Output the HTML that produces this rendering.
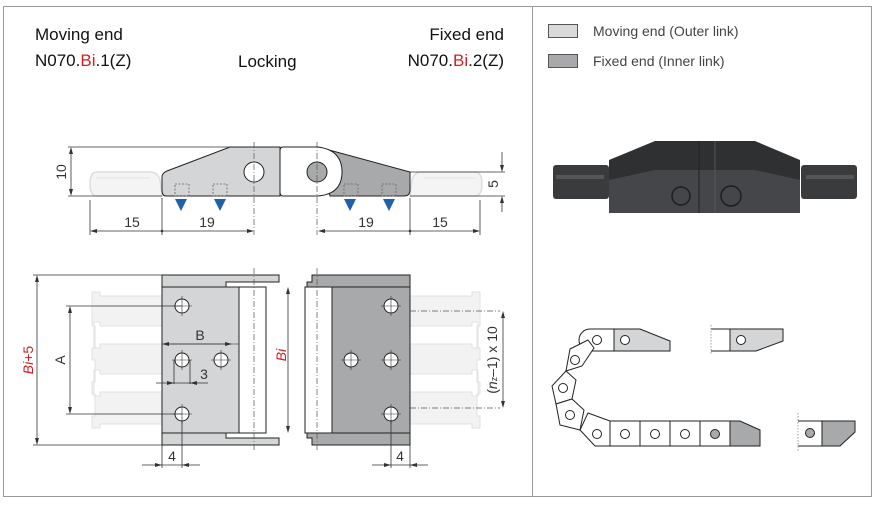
<!DOCTYPE html>
<html><head><meta charset="utf-8"><style>
html,body{margin:0;padding:0;background:#fff;}
svg{display:block;font-family:"Liberation Sans",Arial,sans-serif;}
</style></head><body>
<svg width="883" height="505" viewBox="0 0 883 505" xmlns="http://www.w3.org/2000/svg">
<rect x="0" y="0" width="883" height="505" fill="#fff"/>
<rect x="3.5" y="6.5" width="868" height="490" fill="none" stroke="#999" stroke-width="1"/>
<line x1="532.5" y1="6" x2="532.5" y2="497" stroke="#999"/>

<!-- headers -->
<g font-size="17" fill="#111">
<text x="35" y="40">Moving end</text>
<text x="35" y="66">N070.<tspan fill="#d42020">Bi</tspan>.1(Z)</text>
<text x="238" y="67">Locking</text>
<text x="504" y="40" text-anchor="end">Fixed end</text>
<text x="504" y="66" text-anchor="end">N070.<tspan fill="#d42020">Bi</tspan>.2(Z)</text>
</g>
<!-- legend -->
<rect x="548.5" y="24.5" width="29" height="13" fill="#d9d9d9" stroke="#555"/>
<rect x="548.5" y="54.5" width="29" height="13" fill="#a9a9ab" stroke="#555"/>
<g font-size="14" fill="#444"><text x="593" y="36">Moving end (Outer link)</text><text x="593" y="66">Fixed end (Inner link)</text></g>

<!-- SIDE VIEW -->
<g stroke="#ddd" fill="#f4f4f4" stroke-width="1.5">
<path d="M97 172 H150 Q158 172 160 180 L162 196 H97 Q90 196 90 184 Q90 172 97 172Z"/>
<path d="M475 172 H422 Q414 172 412 180 L410 196 H475 Q482 196 482 184 Q482 172 475 172Z"/>
</g>
<line x1="96" y1="178" x2="150" y2="178" stroke="#e4e4e4"/>
<line x1="424" y1="178" x2="476" y2="178" stroke="#e4e4e4"/>
<g stroke="#222" stroke-width="1">
<path d="M230 147 H280 V196 H166 Q162 196 162 190 V177 Q162 173 167 171Z" fill="#d4d5d7"/>
<path d="M318 147 L410 172 V190 Q410 196 404 196 H330 Z" fill="#a8a9ab"/>
<path d="M283 147 H318 Q342 150 342 172 Q342 194 318 196 H283 Q280 196 280 192 V151 Q280 147 283 147Z" fill="#fff"/>
<circle cx="254" cy="172" r="10" fill="#fff"/>
<circle cx="317" cy="172" r="10" fill="#a8a9ab"/>
</g>
<g stroke="#666" stroke-width="0.8" stroke-dasharray="2,1.5" fill="none">
<rect x="175" y="184" width="14" height="12"/><rect x="213" y="184" width="14" height="12"/>
<rect x="344" y="184" width="14" height="12"/><rect x="382" y="184" width="14" height="12"/>
</g>
<g fill="#1e5fb0">
<path d="M175 199 H187 L181 211Z"/><path d="M214 199 H226 L220 211Z"/>
<path d="M344 199 H356 L350 211Z"/><path d="M383 199 H395 L389 211Z"/>
</g>
<g stroke="#555" stroke-width="0.7" stroke-dasharray="6,2,1,2">
<line x1="254" y1="142" x2="254" y2="235"/><line x1="317" y1="142" x2="317" y2="235"/>
</g>
<g stroke="#333" stroke-width="0.8" fill="none">
<line x1="68" y1="147" x2="230" y2="147"/><line x1="68" y1="196" x2="162" y2="196"/>
<line x1="410" y1="196" x2="505" y2="196"/><line x1="410" y1="172" x2="505" y2="172"/>
<line x1="71" y1="149" x2="71" y2="194"/>
<line x1="502" y1="152" x2="502" y2="170"/><line x1="502" y1="198" x2="502" y2="212"/>
<line x1="90" y1="200" x2="90" y2="235"/><line x1="162" y1="198" x2="162" y2="235"/>
<line x1="410" y1="198" x2="410" y2="235"/><line x1="480" y1="200" x2="480" y2="235"/>
<line x1="92" y1="231" x2="252" y2="231"/><line x1="320" y1="231" x2="478" y2="231"/>
</g>
<g fill="#333">
<path d="M71 147 l-2 7 h4Z"/><path d="M71 196 l-2 -7 h4Z"/>
<path d="M502 172 l-2 -7 h4Z"/><path d="M502 196 l-2 7 h4Z"/>
<path d="M90 231 l7 -2 v4Z"/><path d="M254 231 l-7 -2 v4Z"/>
<path d="M318 231 l7 -2 v4Z"/><path d="M480 231 l-7 -2 v4Z"/>
<circle cx="162" cy="231" r="1.3"/><circle cx="410" cy="231" r="1.3"/>
</g>
<g font-size="14" fill="#333">
<text x="132" y="227" text-anchor="middle">15</text><text x="207" y="227" text-anchor="middle">19</text>
<text x="366" y="227" text-anchor="middle">19</text><text x="440" y="227" text-anchor="middle">15</text>
<text transform="translate(66,172) rotate(-90)" text-anchor="middle">10</text>
<text transform="translate(498,184) rotate(-90)" text-anchor="middle">5</text>
</g>

<!-- TOP VIEW -->
<g fill="#f2f2f2" stroke="#e2e2e2" stroke-width="1">
<path d="M92 292 h8 v4 h62 v30 h-62 v-4 h-6 v26 h6 v-4 h62 v30 h-62 v-4 h-6 v26 h6 v-4 h62 v32 h-62 v4 h-8 v-12 h3 v-22 h-3 v-12 h3 v-22 h-3 v-12 h3 v-22 h-3Z"/>
<path d="M480 292 h-8 v4 h-62 v30 h62 v-4 h6 v26 h-6 v-4 h-62 v30 h62 v-4 h6 v26 h-6 v-4 h-62 v32 h62 v4 h8 v-12 h-3 v-22 h3 v-12 h-3 v-22 h3 v-12 h-3 v-22 h3Z"/>
</g>
<g stroke="#222" stroke-width="1">
<path d="M162 275 H279 V282 H226 V287 H162Z" fill="#d4d5d7"/>
<path d="M162 445 H279 V438 H226 V433 H162Z" fill="#d4d5d7"/>
<path d="M312 275 V282 H307 V287 H410 V275Z" fill="#a8a9ab"/>
<path d="M312 445 V438 H307 V433 H410 V445Z" fill="#a8a9ab"/>
<rect x="162" y="287" width="77" height="146" fill="#d4d5d7"/>
<rect x="239" y="287" width="27" height="146" fill="#fff"/>
<rect x="305" y="287" width="27" height="146" fill="#fff"/>
<rect x="332" y="287" width="78" height="146" fill="#a8a9ab"/>
<line x1="162" y1="344" x2="239" y2="344" stroke-width="0.6"/>
</g>
<g stroke="#555" stroke-width="0.7" stroke-dasharray="6,2,1,2">
<line x1="254" y1="268" x2="254" y2="450"/><line x1="317" y1="268" x2="317" y2="450"/>
<line x1="410" y1="311" x2="500" y2="311"/><line x1="410" y1="408" x2="500" y2="408"/>
</g>
<g fill="#fff" stroke="#222" stroke-width="1">
<circle cx="182" cy="306" r="7"/><circle cx="182" cy="360" r="7"/><circle cx="221" cy="360" r="7"/><circle cx="182" cy="414" r="7"/>
<circle cx="391" cy="306" r="7"/><circle cx="351" cy="360" r="7"/><circle cx="391" cy="360" r="7"/><circle cx="391" cy="414" r="7"/>
</g>
<g stroke="#333" stroke-width="0.6">
<path d="M172 306h20M182 296v20M172 360h20M182 350v20M211 360h20M221 350v20M172 414h20M182 404v20"/>
<path d="M381 306h20M391 296v20M341 360h20M351 350v20M381 360h20M391 350v20M381 414h20M391 404v20"/>
</g>
<g stroke="#333" stroke-width="0.8" fill="none">
<line x1="33" y1="275" x2="162" y2="275"/><line x1="33" y1="445" x2="162" y2="445"/>
<line x1="37" y1="277" x2="37" y2="443"/>
<line x1="66" y1="306" x2="182" y2="306"/><line x1="66" y1="414" x2="182" y2="414"/>
<line x1="70" y1="308" x2="70" y2="412"/>
<line x1="164" y1="344" x2="230" y2="344"/>
<line x1="174" y1="360" x2="174" y2="384"/><line x1="190" y1="360" x2="190" y2="384"/>
<line x1="156" y1="383" x2="208" y2="383"/>
<line x1="288" y1="289" x2="288" y2="431"/>
<line x1="503" y1="313" x2="503" y2="406"/>
<line x1="182" y1="420" x2="182" y2="468"/><line x1="162" y1="445" x2="162" y2="468"/>
<line x1="142" y1="465" x2="200" y2="465"/>
<line x1="391" y1="420" x2="391" y2="468"/><line x1="410" y1="445" x2="410" y2="468"/>
<line x1="372" y1="465" x2="428" y2="465"/>
</g>
<g fill="#333">
<path d="M37 275 l-2 7 h4Z"/><path d="M37 445 l-2 -7 h4Z"/>
<path d="M70 306 l-2 7 h4Z"/><path d="M70 414 l-2 -7 h4Z"/>
<path d="M162 344 l7 -2 v4Z"/><path d="M232 344 l-7 -2 v4Z"/>
<path d="M174 383 l-7 -2 v4Z"/><path d="M190 383 l7 -2 v4Z"/>
<path d="M288 287 l-2 7 h4Z"/><path d="M288 433 l-2 -7 h4Z"/>
<path d="M503 311 l-2 7 h4Z"/><path d="M503 408 l-2 -7 h4Z"/>
<path d="M162 465 l-7 -2 v4Z"/><path d="M182 465 l7 -2 v4Z"/>
<path d="M391 465 l-7 -2 v4Z"/><path d="M410 465 l7 -2 v4Z"/>
</g>
<g font-size="14" fill="#333">
<text x="200" y="340" text-anchor="middle">B</text>
<text x="204" y="379" text-anchor="middle">3</text>
<text x="172" y="461" text-anchor="middle">4</text>
<text x="400" y="461" text-anchor="middle">4</text>
<text transform="translate(65,360) rotate(-90)" text-anchor="middle">A</text>
<text transform="translate(33,360) rotate(-90)" text-anchor="middle" fill="#d42020"><tspan font-style="italic">Bi</tspan>+5</text>
<text transform="translate(286,355) rotate(-90)" text-anchor="middle" fill="#d42020" font-style="italic">Bi</text>
<text transform="translate(497,360) rotate(-90)" text-anchor="middle">(<tspan font-style="italic">n</tspan><tspan font-size="9">z</tspan>–1) x 10</text>
</g>

<!-- photo of chain -->
<g>
<rect x="553" y="165" width="56" height="34" rx="3" fill="#3a3b3d"/>
<rect x="801" y="165" width="56" height="34" rx="3" fill="#3a3b3d"/>
<rect x="556" y="175" width="48" height="4" fill="#555"/>
<rect x="806" y="175" width="48" height="4" fill="#555"/>
<path d="M609 160 L655 141 H755 L800 160 V213 H609Z" fill="#2f3032"/>
<path d="M609 180 L655 170 H755 L800 180 V213 H609Z" fill="#45464a"/>
<circle cx="681" cy="196" r="9" fill="none" stroke="#1e1e1e" stroke-width="1.5"/>
<circle cx="731" cy="196" r="10" fill="none" stroke="#1e1e1e" stroke-width="1.5"/>
<line x1="699" y1="141" x2="699" y2="213" stroke="#222"/>
<line x1="715" y1="141" x2="715" y2="213" stroke="#555"/>
</g>

<!-- chain sketch -->
<g stroke="#222" stroke-width="1">
<path d="M614 329 H640 L670 341 V351 H614Z" fill="#d4d5d7"/>
<path d="M590 329 H614 V351 H590 A11 11 0 0 1 590 329Z" fill="#fff"/>
<path d="M588 340 L570 349 L566 371 L582 366 L594 348Z" fill="#fff"/>
<path d="M566 371 L552 386 L556 404 L572 399 L576 380Z" fill="#fff"/>
<path d="M556 404 L560 425 L580 430 L584 410 L572 399Z" fill="#fff"/>
<path d="M580 430 L595 446 H610 V421 L588 413Z" fill="#fff"/>
<rect x="610" y="421" width="30" height="25" fill="#fff"/>
<rect x="640" y="421" width="30" height="25" fill="#fff"/>
<rect x="670" y="421" width="30" height="25" fill="#fff"/>
<rect x="700" y="421" width="30" height="25" fill="#fff"/>
<path d="M730 421 H740 L760 430 V446 H730Z" fill="#a8a9ab"/>
<path d="M711 329 H730 V351 H711" fill="#fff"/>
<path d="M730 329 H783 V341 L756 351 H730Z" fill="#d4d5d7"/>
<path d="M822 421 H855 V432 L840 446 H822Z" fill="#a8a9ab"/>
<path d="M798 421 H822 V446 H798" fill="#fff"/>
<g fill="#fff">
<circle cx="597" cy="340" r="4.5"/><circle cx="625" cy="340" r="4.5"/>
<circle cx="575" cy="360" r="4.5"/><circle cx="563" cy="388" r="4.5"/><circle cx="570" cy="415" r="4.5"/>
<circle cx="597" cy="434" r="4.5"/><circle cx="625" cy="434" r="4.5"/><circle cx="655" cy="434" r="4.5"/><circle cx="685" cy="434" r="4.5"/>
<circle cx="741" cy="340" r="4.5"/>
</g>
<circle cx="715" cy="434" r="4.5" fill="#a8a9ab"/>
<circle cx="810" cy="433" r="4.5" fill="#a8a9ab"/>
</g>
<g stroke="#888" stroke-width="0.8" stroke-dasharray="1.5,1.5">
<line x1="711" y1="325" x2="711" y2="355"/><line x1="798" y1="413" x2="798" y2="451"/>
</g>
</svg>
</body></html>
